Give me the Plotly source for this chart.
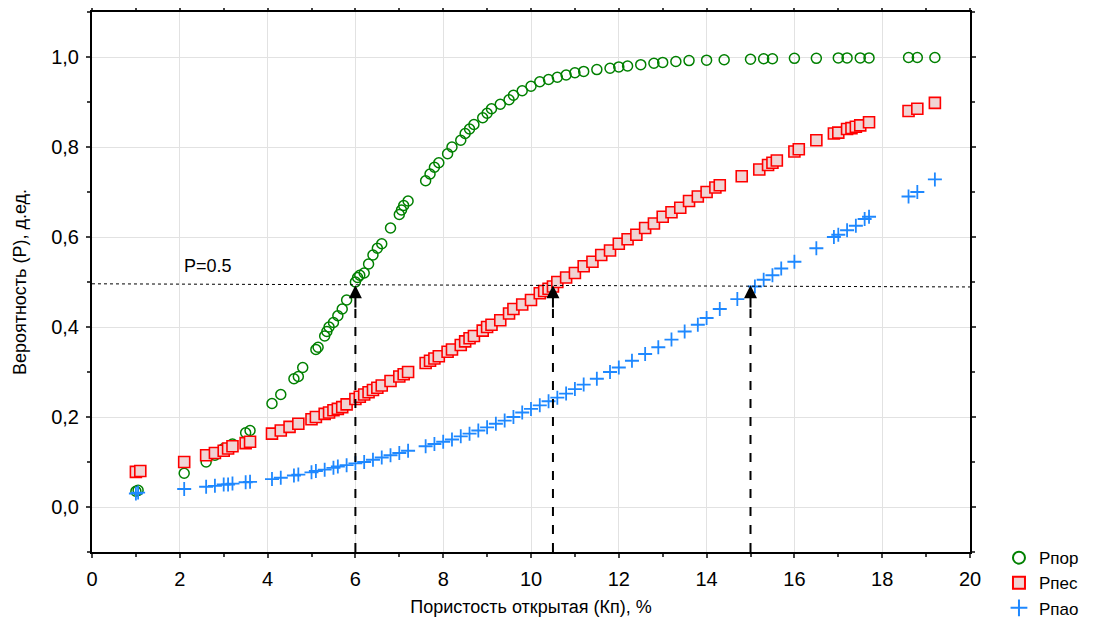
import plotly.graph_objects as go

# Green circles (Рпор)
por_x = [1.0, 1.05, 2.1, 2.6, 2.8, 3.0, 3.2, 3.5, 3.6, 4.1, 4.3, 4.6, 4.7, 4.8, 5.1, 5.15, 5.3, 5.35,
         5.4, 5.5, 5.6, 5.7, 5.8, 6.0, 6.05, 6.1, 6.2, 6.3, 6.4, 6.5, 6.6, 6.8, 7.0, 7.05, 7.1, 7.2,
         7.6, 7.7, 7.8, 7.9, 8.1, 8.2, 8.4, 8.5, 8.6, 8.7, 8.9, 9.0, 9.1, 9.3, 9.5, 9.6, 9.8, 10.0,
         10.2, 10.4, 10.6, 10.8, 11.0, 11.2, 11.5, 11.8, 12.0, 12.2, 12.5, 12.8, 13.0, 13.3, 13.6,
         14.0, 14.4, 15.0, 15.3, 15.5, 16.0, 16.5, 17.0, 17.2, 17.5, 17.7, 18.6, 18.8, 19.2]
por_y = [0.035, 0.037, 0.075, 0.10, 0.115, 0.13, 0.14, 0.165, 0.17, 0.23, 0.25, 0.285, 0.29, 0.31,
         0.35, 0.355, 0.38, 0.39, 0.40, 0.41, 0.425, 0.44, 0.46, 0.50, 0.51, 0.515, 0.52, 0.54,
         0.56, 0.575, 0.585, 0.62, 0.65, 0.66, 0.67, 0.68, 0.725, 0.74, 0.755, 0.765, 0.785, 0.80,
         0.815, 0.83, 0.84, 0.85, 0.865, 0.875, 0.885, 0.895, 0.905, 0.915, 0.925, 0.935, 0.945,
         0.95, 0.955, 0.96, 0.965, 0.968, 0.972, 0.975, 0.978, 0.98, 0.983, 0.986, 0.988, 0.99,
         0.992, 0.993, 0.994, 0.995, 0.996, 0.996, 0.997, 0.997, 0.998, 0.998, 0.998, 0.998,
         0.999, 0.999, 0.999]

# Red squares (Рпес)
pes_x = [1.0, 1.1, 2.1, 2.6, 2.8, 3.0, 3.1, 3.2, 3.5, 3.6, 4.1, 4.3, 4.5, 4.7, 5.0, 5.1, 5.3, 5.4,
         5.5, 5.6, 5.7, 5.8, 6.0, 6.1, 6.2, 6.3, 6.4, 6.5, 6.6, 6.8, 7.0, 7.1, 7.2, 7.6, 7.7, 7.8,
         7.9, 8.1, 8.2, 8.4, 8.5, 8.6, 8.7, 8.9, 9.0, 9.1, 9.3, 9.5, 9.6, 9.8, 10.0, 10.2, 10.3,
         10.4, 10.5, 10.6, 10.8, 11.0, 11.2, 11.4, 11.6, 11.8, 12.0, 12.2, 12.4, 12.6, 12.8, 13.0,
         13.2, 13.4, 13.6, 13.8, 14.0, 14.2, 14.3, 14.8, 15.2, 15.4, 15.5, 15.6, 16.0, 16.1, 16.5,
         16.9, 17.0, 17.2, 17.3, 17.4, 17.5, 17.7, 18.6, 18.8, 19.2]
pes_y = [0.078, 0.08, 0.10, 0.115, 0.12, 0.125, 0.13, 0.135, 0.142, 0.145, 0.163, 0.17, 0.178,
         0.185, 0.195, 0.20, 0.207, 0.21, 0.215, 0.218, 0.222, 0.228, 0.24, 0.245, 0.25, 0.255,
         0.26, 0.265, 0.27, 0.28, 0.29, 0.295, 0.30, 0.32, 0.325, 0.33, 0.335, 0.345, 0.35, 0.36,
         0.368, 0.375, 0.38, 0.392, 0.40, 0.405, 0.415, 0.43, 0.44, 0.45, 0.46, 0.475, 0.48,
         0.485, 0.49, 0.50, 0.51, 0.52, 0.535, 0.545, 0.56, 0.57, 0.585, 0.595, 0.605, 0.62, 0.63,
         0.645, 0.655, 0.665, 0.68, 0.69, 0.70, 0.71, 0.715, 0.735, 0.75, 0.76, 0.765, 0.77, 0.79,
         0.795, 0.815, 0.83, 0.832, 0.84, 0.842, 0.845, 0.848, 0.855, 0.88, 0.885, 0.898]

# Blue crosses (Рпао)
pao_x = [1.0, 1.05, 2.1, 2.6, 2.8, 3.0, 3.1, 3.2, 3.5, 3.6, 4.1, 4.3, 4.6, 4.7, 5.0, 5.1, 5.3, 5.5,
         5.6, 5.8, 6.0, 6.2, 6.4, 6.6, 6.8, 7.0, 7.2, 7.6, 7.8, 8.0, 8.2, 8.4, 8.6, 8.8, 9.0, 9.2,
         9.4, 9.6, 9.8, 10.0, 10.2, 10.4, 10.6, 10.8, 11.0, 11.2, 11.5, 11.8, 12.0, 12.3, 12.6,
         12.9, 13.2, 13.5, 13.8, 14.0, 14.3, 14.7, 15.1, 15.3, 15.5, 15.7, 16.0, 16.5, 16.9, 17.0,
         17.2, 17.4, 17.6, 17.7, 18.6, 18.8, 19.2]
pao_y = [0.03, 0.032, 0.04, 0.045, 0.047, 0.05, 0.05, 0.052, 0.055, 0.056, 0.062, 0.065, 0.07,
         0.072, 0.077, 0.08, 0.083, 0.087, 0.09, 0.093, 0.097, 0.10, 0.105, 0.11, 0.115, 0.12,
         0.125, 0.135, 0.14, 0.145, 0.15, 0.157, 0.163, 0.17, 0.177, 0.185, 0.192, 0.20, 0.21,
         0.218, 0.226, 0.235, 0.243, 0.252, 0.262, 0.272, 0.285, 0.30, 0.31, 0.325, 0.34, 0.355,
         0.372, 0.39, 0.405, 0.42, 0.44, 0.462, 0.49, 0.505, 0.515, 0.53, 0.545, 0.575, 0.60,
         0.605, 0.615, 0.625, 0.64, 0.645, 0.69, 0.70, 0.728]

arrow_x = [6.0, 10.5, 15.0]
level_y = [0.496, 0.489]

x_ticks = [0, 2, 4, 6, 8, 10, 12, 14, 16, 18, 20]
y_ticks = [0.0, 0.2, 0.4, 0.6, 0.8, 1.0]
y_ticktext = ["0,0", "0,2", "0,4", "0,6", "0,8", "1,0"]

FONT = "Liberation Sans, Arial, sans-serif"

fig = go.Figure()
fig.add_trace(go.Scatter(x=por_x, y=por_y, mode="markers", name="Рпор",
                         marker=dict(symbol="circle-open", size=10, color="#008000",
                                     line=dict(width=1.5, color="#008000"))))
fig.add_trace(go.Scatter(x=pes_x, y=pes_y, mode="markers", name="Рпес",
                         marker=dict(symbol="square", size=11, color="#f0d4d4",
                                     line=dict(width=1.6, color="#ff0000"))))
fig.add_trace(go.Scatter(x=pao_x, y=pao_y, mode="markers", name="Рпао",
                         marker=dict(symbol="cross-thin", size=10, color="#1e88ff",
                                     line=dict(width=1.8, color="#1e88ff"))))

# horizontal dotted line
fig.add_shape(type="line", x0=0, x1=20, y0=level_y[0], y1=level_y[1], xref="x", yref="y",
              line=dict(color="black", width=1, dash="dot"))

for ax_x in arrow_x:
    fig.add_shape(type="line", x0=ax_x, x1=ax_x, y0=-0.1, y1=0.45, xref="x", yref="y",
                  line=dict(color="black", width=2, dash="dash"))
    fig.add_annotation(x=ax_x, y=0.493, ax=ax_x, ay=0.44, xref="x", yref="y",
                       axref="x", ayref="y", text="", showarrow=True,
                       arrowhead=2, arrowsize=1.3, arrowwidth=2, arrowcolor="black")

fig.add_annotation(x=2.05, y=0.535, xref="x", yref="y", text="P=0.5", showarrow=False,
                   xanchor="left", font=dict(size=18, color="black", family=FONT))

fig.update_layout(
    width=1091, height=609,
    margin=dict(l=84, r=129, t=4, b=65, autoexpand=False),
    plot_bgcolor="white", paper_bgcolor="white",
    font=dict(family=FONT, size=20, color="black"),
    legend=dict(x=1.033, y=0.022, xanchor="left", yanchor="top",
                font=dict(size=17, family=FONT), itemsizing="constant",
                tracegroupgap=0, bgcolor="rgba(0,0,0,0)"),
    xaxis=dict(range=[0, 20], tickvals=x_ticks, ticks="outside", ticklen=4, tickwidth=2,
               showline=True, linecolor="black", linewidth=2, mirror="ticks",
               showgrid=True, gridcolor="#e2e2e2", gridwidth=1, zeroline=False,
               automargin=False, tickfont=dict(size=20), ticklabelstandoff=4,
               minor=dict(dtick=1, tick0=0, ticks="outside", ticklen=3, tickwidth=2, showgrid=False),
               title=dict(text="Пористость открытая (Кп), %", font=dict(size=18), standoff=14)),
    yaxis=dict(range=[-0.1, 1.1], tickvals=y_ticks, ticktext=y_ticktext, ticks="outside",
               ticklen=4, tickwidth=2, automargin=False, tickfont=dict(size=20),
               ticklabelstandoff=3,
               showline=True, linecolor="black", linewidth=2, mirror="ticks",
               showgrid=True, gridcolor="#e2e2e2", gridwidth=1, zeroline=False,
               minor=dict(dtick=0.1, tick0=0, ticks="outside", ticklen=3, tickwidth=2, showgrid=False),
               title=dict(text="Вероятность (P), д.ед.", font=dict(size=18), standoff=20)),
)

fig.write_html("out.html")
